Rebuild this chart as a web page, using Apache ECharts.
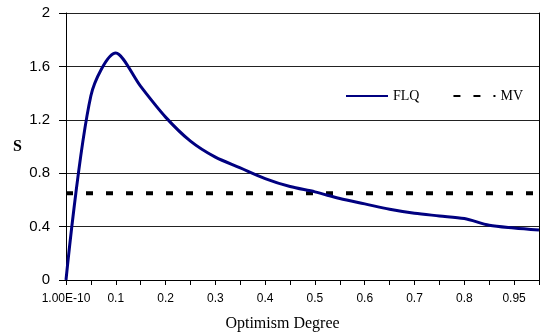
<!DOCTYPE html>
<html>
<head>
<meta charset="utf-8">
<script src="https://cdn.jsdelivr.net/npm/echarts@6/dist/echarts.min.js"></script>
<style>
  html, body { margin: 0; padding: 0; background: #fff; }
  #chart { width: 542px; height: 332px; }
</style>
</head>
<body>
<div id="chart"></div>
<script>
// optimism degree categories (every other one is labelled)
var degrees = ['1.00E-10', '0.05', '0.1', '0.15', '0.2', '0.25', '0.3', '0.35', '0.4', '0.45',
               '0.5', '0.55', '0.6', '0.65', '0.7', '0.75', '0.8', '0.85', '0.95', '0.99'];
// S values
var flq = [0, 1.38, 1.70, 1.45, 1.22, 1.04, 0.92, 0.84, 0.76, 0.70,
           0.66, 0.61, 0.57, 0.53, 0.50, 0.48, 0.46, 0.41, 0.39, 0.375];
var mv = [0.65, 0.65, 0.65, 0.65, 0.65, 0.65, 0.65, 0.65, 0.65, 0.65,
          0.65, 0.65, 0.65, 0.65, 0.65, 0.65, 0.65, 0.65, 0.65, 0.65];
var yTicks = [0, 0.4, 0.8, 1.2, 1.6, 2];

var chart = echarts.init(document.getElementById('chart'));
var option = {
    animation: false,
    backgroundColor: '#fff',
    grid: {
        left: 66, right: 3, top: 13, bottom: 52,
        outerBoundsMode: 'none'
    },
    legend: {
        left: 340, top: 84,
        itemWidth: 42, itemHeight: 14,
        itemGap: 33,
        itemStyle: { opacity: 0 },
        textStyle: { fontFamily: 'Liberation Serif', fontSize: 14, color: '#000' },
        data: ['FLQ', 'MV']
    },
    xAxis: {
        type: 'category',
        data: degrees,
        boundaryGap: false,
        name: 'Optimism Degree',
        nameLocation: 'middle',
        nameGap: 36,
        nameTextStyle: { fontFamily: 'Liberation Serif', fontSize: 16, color: '#000', padding: [0, 40, 0, 0] },
        axisLine: { show: true, lineStyle: { color: '#000', width: 1 } },
        axisTick: { show: true, interval: 0, length: 5, lineStyle: { color: '#000', width: 1 } },
        axisLabel: {
            interval: function (i) { return i % 2 === 0 && i < degrees.length - 1; },
            margin: 13,
            fontFamily: 'Liberation Sans', fontSize: 12, color: '#000'
        },
        splitLine: { show: false }
    },
    yAxis: [
        {
            type: 'value',
            min: yTicks[0], max: yTicks[yTicks.length - 1], interval: 0.4,
            name: 'S',
            nameLocation: 'middle',
            nameRotate: 0,
            nameGap: 44,
            nameTextStyle: { fontFamily: 'Liberation Serif', fontSize: 16, fontWeight: 'bold', color: '#000', padding: [28, 0, 0, 0] },
            axisLine: { show: true, lineStyle: { color: '#000', width: 1 } },
            axisTick: { show: true, length: 7, lineStyle: { color: '#000', width: 1 } },
            axisLabel: {
                margin: 16,
                fontFamily: 'Liberation Sans', fontSize: 15, color: '#000',
                formatter: function (v) { return String(Math.round(v * 10) / 10); }
            },
            splitLine: { show: true, lineStyle: { color: '#222', width: 1 } }
        },
        {
            // right-hand frame line of the plot area
            type: 'value',
            position: 'right',
            min: yTicks[0], max: yTicks[yTicks.length - 1], interval: 0.4,
            axisLine: { show: true, lineStyle: { color: '#000', width: 1 } },
            axisTick: { show: false },
            axisLabel: { show: false },
            splitLine: { show: false }
        }
    ],
    series: [
        {
            name: 'FLQ',
            type: 'line',
            data: flq,
            symbol: 'none',
            smooth: 0.3,
            color: '#000080',
            lineStyle: { color: '#000080', width: 3 },
            z: 3
        },
        {
            name: 'MV',
            type: 'line',
            data: mv,
            symbol: 'none',
            color: '#000',
            lineStyle: { color: '#000', width: 4, type: [7, 13] },
            z: 2
        }
    ]
};
chart.setOption(option);
</script>
</body>
</html>
